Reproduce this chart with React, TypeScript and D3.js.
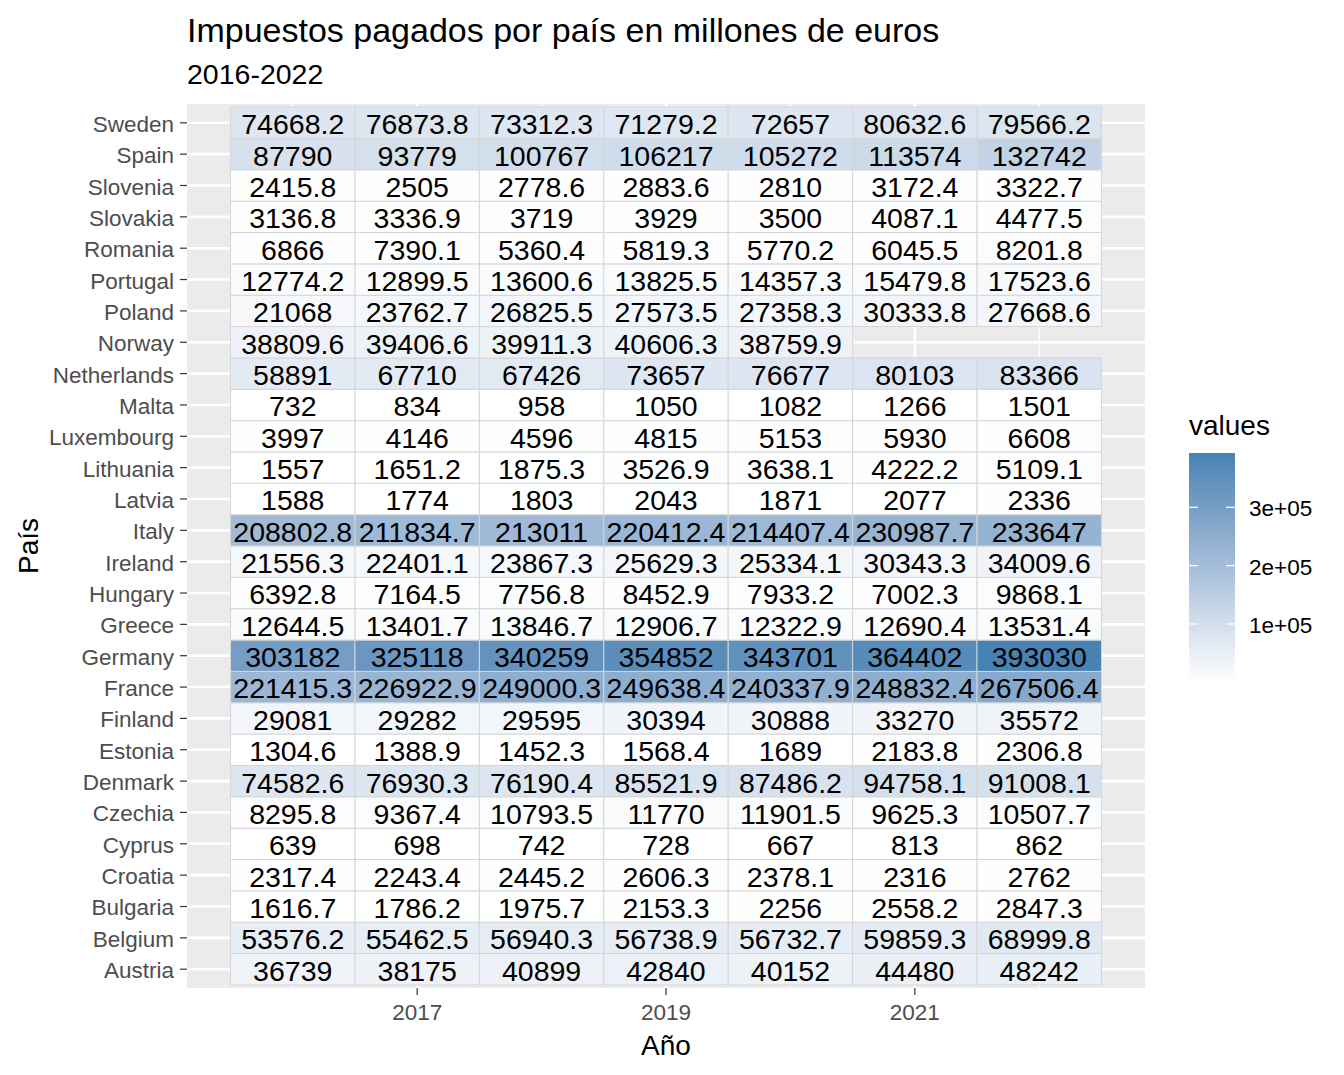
import * as d3 from "d3"

const countries = ["Austria", "Belgium", "Bulgaria", "Croatia", "Cyprus", "Czechia", "Denmark", "Estonia", "Finland", "France",
  "Germany", "Greece", "Hungary", "Ireland", "Italy", "Latvia", "Lithuania", "Luxembourg", "Malta", "Netherlands",
  "Norway", "Poland", "Portugal", "Romania", "Slovakia", "Slovenia", "Spain", "Sweden"]
const years = [2016, 2017, 2018, 2019, 2020, 2021, 2022]
const xBreaks = [2017, 2019, 2021]
const xMinor = [2016, 2018, 2020, 2022]
const legendBreaks = [100000, 200000, 300000]

// one row per country, 2016..2022 (null = no data)
const values: (number | null)[][] = [
  [36739, 38175, 40899, 42840, 40152, 44480, 48242],
  [53576.2, 55462.5, 56940.3, 56738.9, 56732.7, 59859.3, 68999.8],
  [1616.7, 1786.2, 1975.7, 2153.3, 2256, 2558.2, 2847.3],
  [2317.4, 2243.4, 2445.2, 2606.3, 2378.1, 2316, 2762],
  [639, 698, 742, 728, 667, 813, 862],
  [8295.8, 9367.4, 10793.5, 11770, 11901.5, 9625.3, 10507.7],
  [74582.6, 76930.3, 76190.4, 85521.9, 87486.2, 94758.1, 91008.1],
  [1304.6, 1388.9, 1452.3, 1568.4, 1689, 2183.8, 2306.8],
  [29081, 29282, 29595, 30394, 30888, 33270, 35572],
  [221415.3, 226922.9, 249000.3, 249638.4, 240337.9, 248832.4, 267506.4],
  [303182, 325118, 340259, 354852, 343701, 364402, 393030],
  [12644.5, 13401.7, 13846.7, 12906.7, 12322.9, 12690.4, 13531.4],
  [6392.8, 7164.5, 7756.8, 8452.9, 7933.2, 7002.3, 9868.1],
  [21556.3, 22401.1, 23867.3, 25629.3, 25334.1, 30343.3, 34009.6],
  [208802.8, 211834.7, 213011, 220412.4, 214407.4, 230987.7, 233647],
  [1588, 1774, 1803, 2043, 1871, 2077, 2336],
  [1557, 1651.2, 1875.3, 3526.9, 3638.1, 4222.2, 5109.1],
  [3997, 4146, 4596, 4815, 5153, 5930, 6608],
  [732, 834, 958, 1050, 1082, 1266, 1501],
  [58891, 67710, 67426, 73657, 76677, 80103, 83366],
  [38809.6, 39406.6, 39911.3, 40606.3, 38759.9, null, null],
  [21068, 23762.7, 26825.5, 27573.5, 27358.3, 30333.8, 27668.6],
  [12774.2, 12899.5, 13600.6, 13825.5, 14357.3, 15479.8, 17523.6],
  [6866, 7390.1, 5360.4, 5819.3, 5770.2, 6045.5, 8201.8],
  [3136.8, 3336.9, 3719, 3929, 3500, 4087.1, 4477.5],
  [2415.8, 2505, 2778.6, 2883.6, 2810, 3172.4, 3322.7],
  [87790, 93779, 100767, 106217, 105272, 113574, 132742],
  [74668.2, 76873.8, 73312.3, 71279.2, 72657, 80632.6, 79566.2],
]

const W = 1344, H = 1075
const P = { left: 187, right: 1145, top: 104, bottom: 988 }
const FONT = "'Liberation Sans', Arial, sans-serif"

export default function App() {
  const cells = values.flatMap((row, i) => row.map((v, j) => ({ c: countries[i], i, year: years[j], v })))
    .filter(d => d.v != null) as { c: string; i: number; year: number; v: number }[]
  const ext = d3.extent(cells, d => d.v) as [number, number]

  const x = d3.scaleLinear().domain([2015.5 - 0.35, 2022.5 + 0.35]).range([P.left, P.right])
  const y = d3.scaleLinear().domain([0.4, countries.length + 0.6]).range([P.bottom, P.top])
  const fill = d3.scaleLinear<string>().domain(ext).range(["white", "steelblue"]).interpolate(d3.interpolateLab)
  const tw = x(2017) - x(2016), th = y(1) - y(2)

  const lg = d3.scaleLinear().domain(ext).range([682, 453])
  const stops = d3.range(0, 1.0001, 0.05)

  return (
    <svg width={W} height={H} style={{ position: "absolute", left: 0, top: 0, display: "block", background: "white" }} fontFamily={FONT}>
      <defs>
        <linearGradient id="lgd" x1="0" y1="1" x2="0" y2="0">
          {stops.map(t => <stop key={t} offset={t} stopColor={fill(ext[0] + t * (ext[1] - ext[0]))} />)}
        </linearGradient>
      </defs>
      <text x={P.left} y={42} fontSize={34} fill="black">Impuestos pagados por país en millones de euros</text>
      <text x={P.left} y={84} fontSize={28.5} fill="black">2016-2022</text>

      <rect x={P.left} y={P.top} width={P.right - P.left} height={P.bottom - P.top} fill="#EBEBEB" />
      {xMinor.map(t => <line key={"mn" + t} x1={x(t)} x2={x(t)} y1={P.top} y2={P.bottom} stroke="white" strokeWidth={1.3} />)}
      {xBreaks.map(t => <line key={"mj" + t} x1={x(t)} x2={x(t)} y1={P.top} y2={P.bottom} stroke="white" strokeWidth={2.6} />)}
      {countries.map((c, i) => <line key={"h" + c} x1={P.left} x2={P.right} y1={y(i + 1)} y2={y(i + 1)} stroke="white" strokeWidth={2.6} />)}

      {cells.map(d => (
        <rect key={d.c + d.year} x={x(d.year) - tw / 2} y={y(d.i + 1) - th / 2} width={tw} height={th}
          fill={fill(d.v)} stroke="#D6D6D6" strokeWidth={1} />
      ))}
      {cells.map(d => (
        <text key={"t" + d.c + d.year} x={x(d.year)} y={y(d.i + 1)} dy="0.4em" textAnchor="middle" fontSize={28.5} fill="black">
          {String(d.v)}
        </text>
      ))}

      {countries.map((c, i) => (
        <g key={"yl" + c}>
          <line x1={P.left - 7} x2={P.left} y1={y(i + 1)} y2={y(i + 1)} stroke="#333333" strokeWidth={1.2} />
          <text x={P.left - 13} y={y(i + 1)} dy="0.4em" textAnchor="end" fontSize={22.5} fill="#4D4D4D">{c}</text>
        </g>
      ))}
      {xBreaks.map(t => (
        <g key={"xl" + t}>
          <line x1={x(t)} x2={x(t)} y1={P.bottom} y2={P.bottom + 7} stroke="#333333" strokeWidth={1.2} />
          <text x={x(t)} y={1020} textAnchor="middle" fontSize={22.5} fill="#4D4D4D">{t}</text>
        </g>
      ))}
      <text x={(P.left + P.right) / 2} y={1055} textAnchor="middle" fontSize={28} fill="black">Año</text>
      <text transform={`translate(38,${(P.top + P.bottom) / 2}) rotate(-90)`} textAnchor="middle" fontSize={28} fill="black">País</text>

      <text x={1189} y={435} fontSize={28} fill="black">values</text>
      <rect x={1189} y={lg.range()[1]} width={46} height={lg.range()[0] - lg.range()[1]} fill="url(#lgd)" />
      {legendBreaks.map(b => (
        <g key={"lb" + b}>
          <line x1={1189} x2={1198} y1={lg(b)} y2={lg(b)} stroke="white" strokeWidth={1.2} />
          <line x1={1226} x2={1235} y1={lg(b)} y2={lg(b)} stroke="white" strokeWidth={1.2} />
          <text x={1249} y={lg(b)} dy="0.4em" fontSize={22.5} fill="black">{d3.format(".0e")(b).replace("e+", "e+0")}</text>
        </g>
      ))}
    </svg>
  )
}
